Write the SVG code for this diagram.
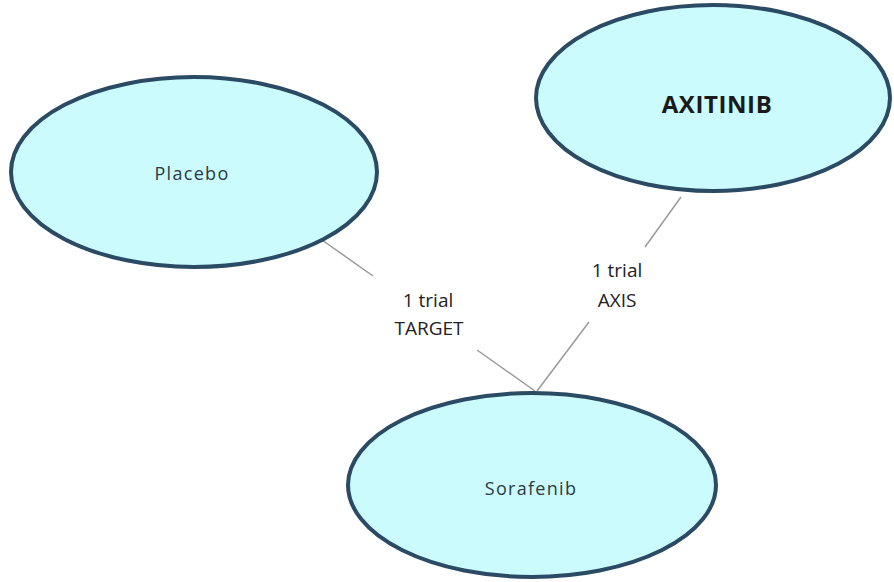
<svg xmlns="http://www.w3.org/2000/svg" width="894" height="582" viewBox="0 0 894 582">
<style>
.node{fill:#cbfbfd;stroke:#2b4a63;stroke-width:4}
.lbl{font-family:"Open Sans","Liberation Sans",sans-serif;font-size:18px;letter-spacing:1.3px;fill:#2c3a40;text-anchor:middle}
.edge{stroke:#9a9a9a;stroke-width:1.5;fill:none}
.elbl{font-family:"Open Sans","Liberation Sans",sans-serif;font-size:19px;fill:#222;text-anchor:middle}
</style>
<rect width="894" height="582" fill="#ffffff"/>
<g id="connectors">
<polyline class="edge" points="322,240 373,276"/>
<polyline class="edge" points="477,350 535,391"/>
<polyline class="edge" points="681,197 645,247"/>
<polyline class="edge" points="589,322 537,391"/>
<text class="elbl" x="428" y="307">1 trial</text>
<text class="elbl" x="429" y="335">TARGET</text>
<text class="elbl" x="617" y="277">1 trial</text>
<text class="elbl" x="617" y="307">AXIS</text>
</g>
<g id="placebo">
<ellipse class="node" cx="194" cy="172" rx="183" ry="95"/>
<text class="lbl" x="192" y="180">Placebo</text>
</g>
<g id="axitinib">
<ellipse class="node" cx="713" cy="98" rx="177" ry="93"/>
<text class="lbl" x="717" y="113" style="font-size:24px;font-weight:bold;letter-spacing:0.6px;fill:#1a1a1a">AXITINIB</text>
</g>
<g id="sorafenib">
<ellipse class="node" cx="532" cy="485" rx="184" ry="92"/>
<text class="lbl" x="531" y="495">Sorafenib</text>
</g>
</svg>
